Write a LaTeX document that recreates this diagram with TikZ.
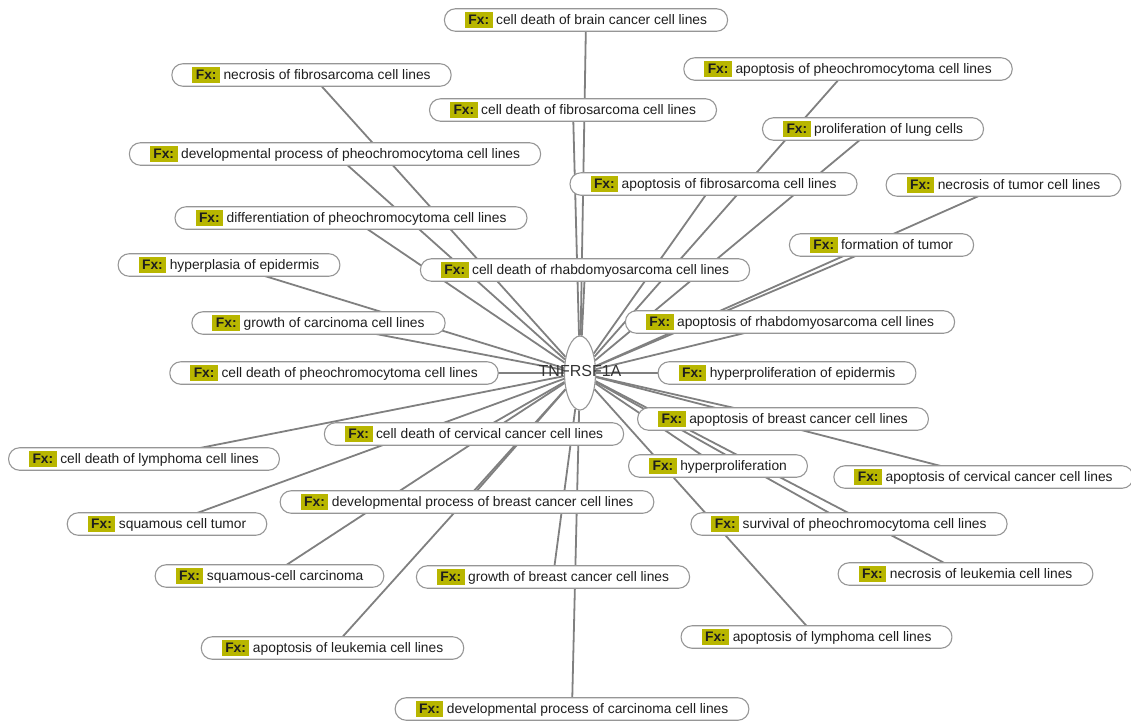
\documentclass[tikz,border=0pt]{standalone}
\usepackage{fontspec}
\setmainfont{Liberation Sans}
\usepackage{xcolor}
\usetikzlibrary{backgrounds,shapes.geometric}

\definecolor{fxolive}{RGB}{184,182,0}
\definecolor{edgegray}{RGB}{128,128,128}
\definecolor{boxgray}{RGB}{150,150,150}
\definecolor{txtdark}{RGB}{30,30,30}

\newcommand{\fxbadge}{{\setlength{\fboxsep}{3.5pt}\colorbox{fxolive}{\bfseries Fx:}}\hspace{3.5pt}}

\begin{document}
\begin{tikzpicture}[
  x=1pt, y=-1pt,
  font=\fontsize{13.8}{16}\selectfont,
  fx/.style={
    draw=boxgray,
    line width=1.1pt,
    fill=white,
    rounded corners=11pt,
    minimum height=22.5pt,
    inner xsep=20.5pt,
    inner ysep=2pt,
    text=txtdark
  },
  hub/.style={
    ellipse,
    draw=boxgray,
    line width=1.1pt,
    fill=white,
    minimum width=31pt,
    minimum height=74pt,
    inner sep=0pt
  },
  link/.style={draw=edgegray, line width=1.8pt}
]
  \useasboundingbox (0,0) rectangle (1131,724);

  % centre
  \node[hub] (hub) at (580,373) {};
  \node[text=black!80, font=\fontsize{16}{18}\selectfont] (hublabel) at (580,371) {TNFRSF1A};

  % upper half
  \node[fx] (braincd) at (586,20) {\fxbadge cell death of brain cancer cell lines};
  \node[fx] (fibronec) at (311.5,75) {\fxbadge necrosis of fibrosarcoma cell lines};
  \node[fx] (pheoapo) at (848,69) {\fxbadge apoptosis of pheochromocytoma cell lines};
  \node[fx] (fibrocd) at (573,110) {\fxbadge cell death of fibrosarcoma cell lines};
  \node[fx] (lungprol) at (873,129) {\fxbadge proliferation of lung cells};
  \node[fx] (pheodev) at (335,154) {\fxbadge developmental process of pheochromocytoma cell lines};
  \node[fx] (fibroapo) at (713.5,184) {\fxbadge apoptosis of fibrosarcoma cell lines};
  \node[fx] (tumornec) at (1003.5,185) {\fxbadge necrosis of tumor cell lines};
  \node[fx] (pheodiff) at (351,218) {\fxbadge differentiation of pheochromocytoma cell lines};
  \node[fx] (tumorform) at (881.5,245) {\fxbadge formation of tumor};
  \node[fx] (epihyperpl) at (229,265) {\fxbadge hyperplasia of epidermis};
  \node[fx] (rhabdocd) at (585,270) {\fxbadge cell death of rhabdomyosarcoma cell lines};
  \node[fx] (carcgrow) at (318.5,323) {\fxbadge growth of carcinoma cell lines};
  \node[fx] (rhabdoapo) at (790,322) {\fxbadge apoptosis of rhabdomyosarcoma cell lines};
  \node[fx] (pheocd) at (334,373) {\fxbadge cell death of pheochromocytoma cell lines};
  \node[fx] (epihyperprol) at (787,373) {\fxbadge hyperproliferation of epidermis};

  % lower half
  \node[fx] (breastapo) at (783,419) {\fxbadge apoptosis of breast cancer cell lines};
  \node[fx] (cervcd) at (474,434) {\fxbadge cell death of cervical cancer cell lines};
  \node[fx] (lymphcd) at (144,459) {\fxbadge cell death of lymphoma cell lines};
  \node[fx] (hyperprol) at (718,466) {\fxbadge hyperproliferation};
  \node[fx] (cervapo) at (983.5,477) {\fxbadge apoptosis of cervical cancer cell lines};
  \node[fx] (breastdev) at (467,502) {\fxbadge developmental process of breast cancer cell lines};
  \node[fx] (sqtumor) at (167,524) {\fxbadge squamous cell tumor};
  \node[fx] (pheosurv) at (849,524) {\fxbadge survival of pheochromocytoma cell lines};
  \node[fx] (sqcarc) at (269.5,576) {\fxbadge squamous-cell carcinoma};
  \node[fx] (breastgrow) at (553,577) {\fxbadge growth of breast cancer cell lines};
  \node[fx] (leuknec) at (965.5,574) {\fxbadge necrosis of leukemia cell lines};
  \node[fx] (lymphapo) at (816.5,637) {\fxbadge apoptosis of lymphoma cell lines};
  \node[fx] (leukapo) at (332.5,648) {\fxbadge apoptosis of leukemia cell lines};
  \node[fx] (carcdev) at (572,709) {\fxbadge developmental process of carcinoma cell lines};

  % links behind everything
  \begin{pgfonlayer}{background}
    \foreach \n in {braincd,fibronec,pheoapo,fibrocd,lungprol,pheodev,fibroapo,
      tumornec,pheodiff,tumorform,epihyperpl,rhabdocd,carcgrow,rhabdoapo,pheocd,
      epihyperprol,breastapo,cervcd,lymphcd,hyperprol,cervapo,breastdev,sqtumor,
      pheosurv,sqcarc,breastgrow,leuknec,lymphapo,leukapo,carcdev}
      \draw[link] (\n.center) -- (hub);
  \end{pgfonlayer}
\end{tikzpicture}
\end{document}
